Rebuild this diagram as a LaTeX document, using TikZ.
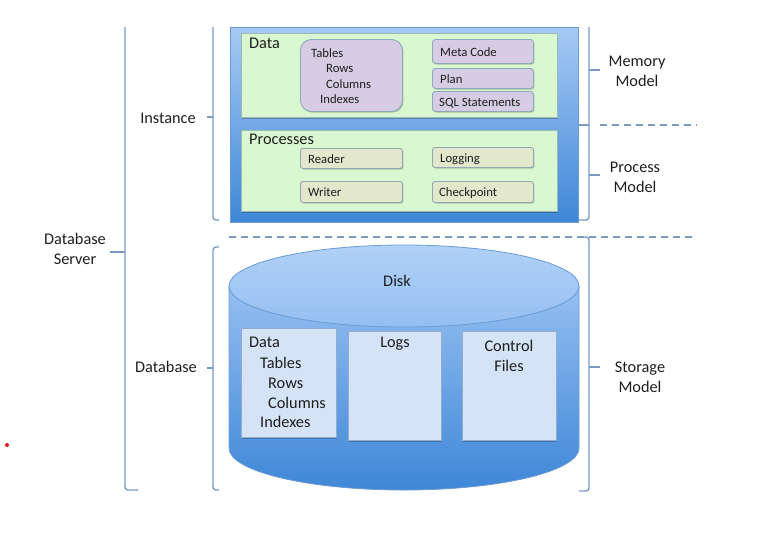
\documentclass[tikz,border=0pt]{standalone}
\usepackage{fontspec}
\setmainfont{Carlito}
\usetikzlibrary{shadows}
\definecolor{brk}{HTML}{7A9AC4}
\definecolor{txt}{HTML}{1E1E1E}
\definecolor{gfill}{HTML}{D9F8D2}
\definecolor{gdraw}{HTML}{9CB9B4}
\definecolor{pfill}{HTML}{D6CCE3}
\definecolor{pdraw}{HTML}{8FA9BA}
\definecolor{yfill}{HTML}{E3E7CB}
\definecolor{ydraw}{HTML}{8FAAB2}
\definecolor{sfill}{HTML}{D4E3F5}
\definecolor{sdraw}{HTML}{93ACCB}
\definecolor{bluetop}{HTML}{A6CAF4}
\definecolor{bluebot}{HTML}{3F87D7}
\definecolor{blueedge}{HTML}{6A9BD6}
\definecolor{elltop}{HTML}{B0D1F7}
\definecolor{ellbot}{HTML}{95BFF1}
\definecolor{reddot}{HTML}{E02020}
\begin{document}
\begin{tikzpicture}[x=1pt,y=-1pt,
  bracket/.style={draw=brk, line width=1.4pt, rounded corners=3pt},
  dashline/.style={draw=brk, line width=1.5pt, dash pattern=on 7pt off 5pt},
  big/.style={font=\fontsize{16.3}{20}\selectfont, text=txt, align=center, inner sep=0pt},
  small/.style={font=\fontsize{12.7}{15}\selectfont, text=txt, inner sep=0pt, anchor=west, text height=10.5pt, text depth=2.5pt},
  mid/.style={font=\fontsize{16.3}{20}\selectfont, text=txt, inner sep=0pt, anchor=west, text height=12pt, text depth=3pt},
  midc/.style={mid, anchor=center},
  shad/.style={drop shadow={shadow xshift=1pt, shadow yshift=-1.2pt, opacity=0.22, fill=black}},
  box/.style={anchor=north west, inner sep=0pt, line width=0.9pt},
  gbox/.style={box, shad, fill=gfill, draw=gdraw},
  pbox/.style={box, shad, fill=pfill, draw=pdraw, rounded corners=3pt},
  ybox/.style={box, shad, fill=yfill, draw=ydraw, rounded corners=2.5pt},
  sbox/.style={box, shad, fill=sfill, draw=sdraw}
]
\useasboundingbox (0,0) rectangle (762,542);

% ---------- Instance (memory + processes) ----------
\node[box, minimum width=348pt, minimum height=195pt, top color=bluetop, bottom color=bluebot, draw=blueedge, line width=0.6pt] (inst) at (230,27) {};

\node[gbox, minimum width=316pt, minimum height=84pt] (memdata) at (241,33) {};
\node[mid] (memdatalbl) at (249,44) {Data};
\node[pbox, rounded corners=11pt, minimum width=102pt, minimum height=72pt] (tblbox) at (300,39) {};
\node[small] (t1) at (311,53) {Tables};
\node[small] (t2) at (326,68) {Rows};
\node[small] (t3) at (326,84) {Columns};
\node[small] (t4) at (320,99) {Indexes};
\node[pbox, minimum width=101pt, minimum height=24pt] (meta) at (432,39) {};
\node[small] (metalbl) at (440,52) {Meta Code};
\node[pbox, minimum width=101pt, minimum height=20pt] (plan) at (432,68) {};
\node[small] (planlbl) at (440,79) {Plan};
\node[pbox, minimum width=101pt, minimum height=20pt] (sql) at (432,91) {};
\node[small] (sqllbl) at (439,102) {SQL Statements};

\node[gbox, minimum width=316pt, minimum height=81pt] (procs) at (241,130) {};
\node[mid] (procslbl) at (249,140) {Processes};
\node[ybox, minimum width=102pt, minimum height=20pt] (reader) at (300,148) {};
\node[small] (readerlbl) at (308,159) {Reader};
\node[ybox, minimum width=102pt, minimum height=21pt] (writer) at (300,181) {};
\node[small] (writerlbl) at (308,192) {Writer};
\node[ybox, minimum width=101pt, minimum height=20pt] (logging) at (432,147) {};
\node[small] (logginglbl) at (440,158) {Logging};
\node[ybox, minimum width=101pt, minimum height=21pt] (chk) at (432,181) {};
\node[small] (chklbl) at (439,192) {Checkpoint};

% ---------- Disk cylinder ----------
\shade[top color=ellbot, bottom color=bluebot] (229,286) -- (229,448) arc[start angle=180, end angle=0, x radius=175, y radius=42] -- (579,286) -- cycle;
\draw[blueedge, line width=0.8pt] (229,286) -- (229,448) arc[start angle=180, end angle=0, x radius=175, y radius=42] -- (579,286);
\shade[top color=elltop, bottom color=ellbot] (404,286) ellipse[x radius=175, y radius=41];
\draw[blueedge, line width=0.8pt] (404,286) ellipse[x radius=175, y radius=41];
\node[midc] (disk) at (397,282) {Disk};

\node[sbox, minimum width=95pt, minimum height=109pt] (sdata) at (241,328) {};
\node[mid] (s1) at (249,343) {Data};
\node[mid] (s2) at (260,364) {Tables};
\node[mid] (s3) at (268,384) {Rows};
\node[mid] (s4) at (268,404) {Columns};
\node[mid] (s5) at (260,423) {Indexes};
\node[sbox, minimum width=93pt, minimum height=109pt] (slogs) at (348,331) {};
\node[midc] (logslbl) at (395,343) {Logs};
\node[sbox, minimum width=94pt, minimum height=109pt] (sctl) at (462,331) {};
\node[midc] (ctl1) at (509,347) {Control};
\node[midc] (ctl2) at (509,367) {Files};

% ---------- dashed separators ----------
\coordinate (d1a) at (600,125);
\coordinate (d1b) at (697,125);
\coordinate (d2a) at (229,237);
\coordinate (d2b) at (697,237);
\draw[dashline] (d1a) -- (d1b);
\draw[dashline] (d2a) -- (d2b);

% ---------- left brackets ----------
\draw[bracket] (125,27) -- (125,490) -- (138,490);
\draw[bracket, rounded corners=0pt] (110,252) -- (125,252);
\node[big] (dbserver) at (75,249) {Database\\Server};

\draw[bracket] (213,27) -- (213,220) -- (219,220);
\draw[bracket, rounded corners=0pt] (207,117) -- (213,117);
\node[big] (instlbl) at (168,118) {Instance};

\draw[bracket] (219,247) -- (213,247) -- (213,490) -- (219,490);
\draw[bracket, rounded corners=0pt] (207,368) -- (213,368);
\node[big] (dblbl) at (166,367) {Database};

% ---------- right brackets ----------
\draw[bracket] (589,27) -- (589,220) -- (579,220);
\draw[bracket, rounded corners=0pt] (579,125) -- (589,125);
\draw[bracket, rounded corners=0pt] (589,70) -- (600,70);
\draw[bracket, rounded corners=0pt] (589,175) -- (600,175);
\node[big] (memlbl) at (637,71) {Memory\\Model};
\node[big] (proclbl) at (635,177) {Process\\Model};

\draw[bracket] (579,237) -- (589,237) -- (589,491) -- (579,491);
\draw[bracket, rounded corners=0pt] (589,367) -- (600,367);
\node[big] (storlbl) at (640,377) {Storage\\Model};

% ---------- stray red dot ----------
\fill[reddot] (7,445) circle[radius=2];
\end{tikzpicture}
\end{document}
